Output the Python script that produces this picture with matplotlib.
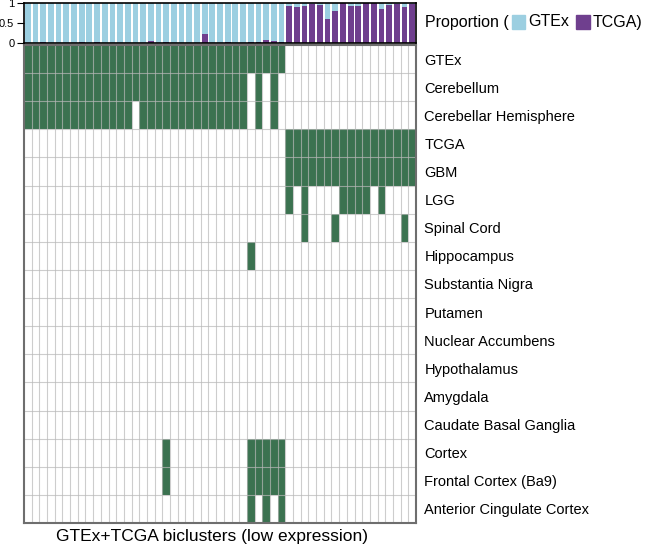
import matplotlib.pyplot as plt
import numpy as np
from matplotlib.colors import ListedColormap
from matplotlib.patches import Rectangle
from matplotlib.offsetbox import HPacker, TextArea, DrawingArea, AnchoredOffsetbox

plt.rcParams['font.family'] = ['Liberation Sans', 'DejaVu Sans']

# row labels of the heatmap (top to bottom)
rows = ['GTEx', 'Cerebellum', 'Cerebellar Hemisphere', 'TCGA', 'GBM', 'LGG',
        'Spinal Cord', 'Hippocampus', 'Substantia Nigra', 'Putamen',
        'Nuclear Accumbens', 'Hypothalamus', 'Amygdala', 'Caudate Basal Ganglia',
        'Cortex', 'Frontal Cortex (Ba9)', 'Anterior Cingulate Cortex']

n_cols = 51

# columns (0-based) that are filled for each row
members = {
    'GTEx': list(range(0, 34)),
    'Cerebellum': [c for c in range(0, 33) if c not in (29, 31)],
    'Cerebellar Hemisphere': [c for c in range(0, 33) if c not in (14, 29, 31)],
    'TCGA': list(range(34, 51)),
    'GBM': list(range(34, 51)),
    'LGG': [34, 36, 41, 42, 43, 44, 46],
    'Spinal Cord': [36, 40, 49],
    'Hippocampus': [29],
    'Cortex': [18, 29, 30, 31, 32, 33],
    'Frontal Cortex (Ba9)': [18, 29, 30, 31, 32, 33],
    'Anterior Cingulate Cortex': [29, 31, 33],
}

# TCGA share of each bicluster (GTEx share is the rest)
tcga_prop = [0, 0, 0.025, 0, 0, 0, 0, 0.02, 0, 0.02,
             0, 0, 0, 0, 0, 0, 0.04, 0, 0.02, 0,
             0, 0, 0, 0.21, 0, 0, 0.02, 0, 0, 0.01,
             0.02, 0.07, 0.05, 0.03,
             0.93, 0.89, 0.92, 0.985, 0.96, 0.60, 0.81, 1.0, 0.92, 0.92,
             1.0, 1.0, 0.86, 0.96, 0.98, 0.90, 0.97]
gtex_prop = [1 - p for p in tcga_prop]

green = '#3b7250'
blue = '#9ccfe1'
purple = '#6f3f8e'

mat = np.zeros((len(rows), n_cols))
for i, r in enumerate(rows):
    for c in members.get(r, []):
        mat[i, c] = 1

fig = plt.figure(figsize=(6.5, 5.47), dpi=100)

# heatmap
ax = fig.add_axes([24/650, 1 - 523/547, 392/650, 478/547])
ax.pcolormesh(np.arange(n_cols + 1) - 0.5, np.arange(len(rows) + 1) - 0.5, mat,
              cmap=ListedColormap(['white', green]), vmin=0, vmax=1)
# cell grid
for c in range(1, n_cols):
    ax.axvline(c - 0.5, color='#b8b8b8', lw=0.8, alpha=0.7)
for r in range(1, len(rows)):
    ax.axhline(r - 0.5, color='#b8b8b8', lw=0.8, alpha=0.7)
ax.set_xlim(-0.5, n_cols - 0.5)
ax.set_ylim(len(rows) - 0.5, -0.5)
ax.set_xticks([])
ax.yaxis.tick_right()
ax.set_yticks(range(len(rows)))
ax.set_yticklabels(rows, fontsize=10.5)
ax.tick_params(axis='y', length=0, pad=6)
for s in ax.spines.values():
    s.set_color('#6e6e6e')
    s.set_linewidth(1.5)
fig.text(212/650, 1 - 537/547, 'GTEx+TCGA biclusters (low expression)',
         fontsize=12.5, ha='center', va='center')

# proportion bars
bx = fig.add_axes([24/650, 1 - 42.7/547, 392/650, 39.7/547])
x = np.arange(n_cols)
bx.bar(x, tcga_prop, width=0.75, color=purple)
bx.bar(x, gtex_prop, bottom=tcga_prop, width=0.75, color=blue)
bx.set_xlim(-0.5, n_cols - 0.5)
bx.set_ylim(0, 1)
bx.set_xticks([])
bx.set_yticks([0, 0.5, 1])
bx.set_yticklabels(['0', '0.5', '1'], fontsize=8)
bx.tick_params(axis='y', length=5, pad=2)
for s in bx.spines.values():
    s.set_linewidth(1.2)

# legend text: Proportion ( [] GTEx [] TCGA)
def square(col):
    d = DrawingArea(10, 10, 0, 0)
    d.add_artist(Rectangle((0, 0), 10, 10, color=col))
    return d

fp = dict(fontsize=11.5)
box = HPacker(children=[TextArea('Proportion (', textprops=fp), square(blue),
                        TextArea('GTEx', textprops=fp), DrawingArea(1, 10),
                        square(purple), TextArea('TCGA)', textprops=fp)],
              align='center', pad=0, sep=2)
anch = AnchoredOffsetbox(loc='center left', child=box, frameon=False,
                         bbox_to_anchor=(425/650, 1 - 22/547),
                         bbox_transform=fig.transFigure, borderpad=0, pad=0)
fig.add_artist(anch)

fig.savefig('out.png', dpi=100)
